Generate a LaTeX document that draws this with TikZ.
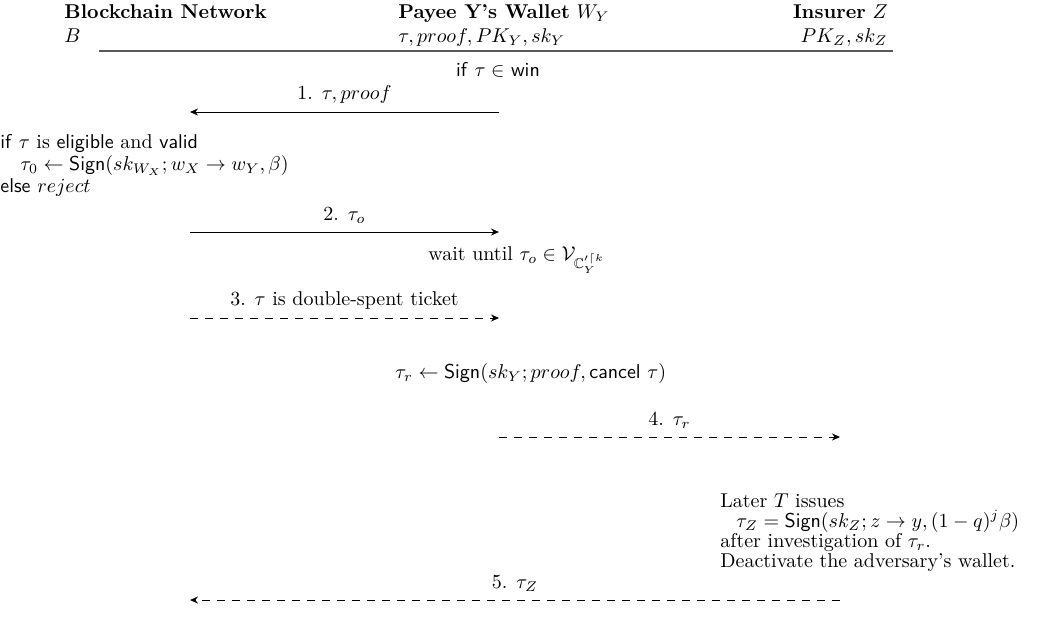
\documentclass[tikz,border=0pt]{standalone}
\usepackage{amssymb}
\usetikzlibrary{arrows.meta}

\begin{document}
\begin{tikzpicture}[
  x=0.5pt, y=-0.5pt,
  >={Stealth[length=4pt,width=3.5pt]},
  party/.style={inner sep=0pt, align=left, anchor=north west},
  note/.style={inner sep=0pt, align=left, anchor=west},
  msg/.style={->, line width=0.5pt},
  lazymsg/.style={msg, dash pattern=on 4pt off 3.5pt},
  tag/.style={above, inner sep=4pt}
]
\useasboundingbox (0,0) rectangle (1053,617);

% Parties and what each one holds
\node[party] (chain) at (64,4) {\textbf{Blockchain Network}\\$B$};
\node[party] (wallet) at (398,4) {\textbf{Payee Y's Wallet} $W_Y$\\$\tau, proof, PK_Y, sk_Y$};
\node[party, align=right, anchor=north east] (insurer) at (888,4) {\textbf{Insurer} $Z$\\$PK_Z, sk_Z$};
\coordinate (ruleL) at (99,51);
\coordinate (ruleR) at (893,51);
\draw[black!65, line width=0.9pt] (ruleL) -- (ruleR);
\node[inner sep=0pt] (cond) at (498,70) {\textsf{if} $\tau\in$ \textsf{win}};

% Lanes of the messages
\foreach \row/\ypos in {1/112, 2/232, 3/318, 4/437, 5/600} {
  \coordinate (b\row) at (190,\ypos);
  \coordinate (y\row) at (499,\ypos);
  \coordinate (z\row) at (840,\ypos);
}

% Claim sent to the chain
\draw[msg] (y1) -- node[tag] {1. $\tau, proof$} (b1);
\node[party] (check) at (0,134) {\textsf{if} $\tau$ is \textsf{eligible} and \textsf{valid}\\[-1pt]\hspace{10pt}$\tau_0 \leftarrow \mathsf{Sign}(sk_{W_X}; w_X \rightarrow w_Y, \beta)$\\[-1pt]\textsf{else} $reject$};
\draw[msg] (b2) -- node[tag] {2. $\tau_o$} (y2);
\node[note] (wait) at (428,260) {wait until $\tau_o \in \mathcal{V}_{\mathbb{C}^{\prime\lceil k}_{Y}}$};

% Double spending found
\draw[lazymsg] (b3) -- node[tag] {3. $\tau$ is double-spent ticket} (y3);
\node[note] (cancel) at (395,373) {$\tau_r \leftarrow \mathsf{Sign}(sk_Y; proof, \textsf{cancel }\tau)$};
\draw[lazymsg] (y4) -- node[tag] {4. $\tau_r$} (z4);

% Insurer pays out
\node[party] (payout) at (720,493) {Later $T$ issues\\[-2pt]\hspace{8pt}$\tau_Z = \mathsf{Sign}(sk_Z; z \rightarrow y, (1-q)^j\beta)$\\[-2pt]after investigation of $\tau_r$.\\[-2pt]Deactivate the adversary's wallet.};
\draw[lazymsg] (z5) -- node[tag] {5. $\tau_Z$} (b5);

\end{tikzpicture}
\end{document}
